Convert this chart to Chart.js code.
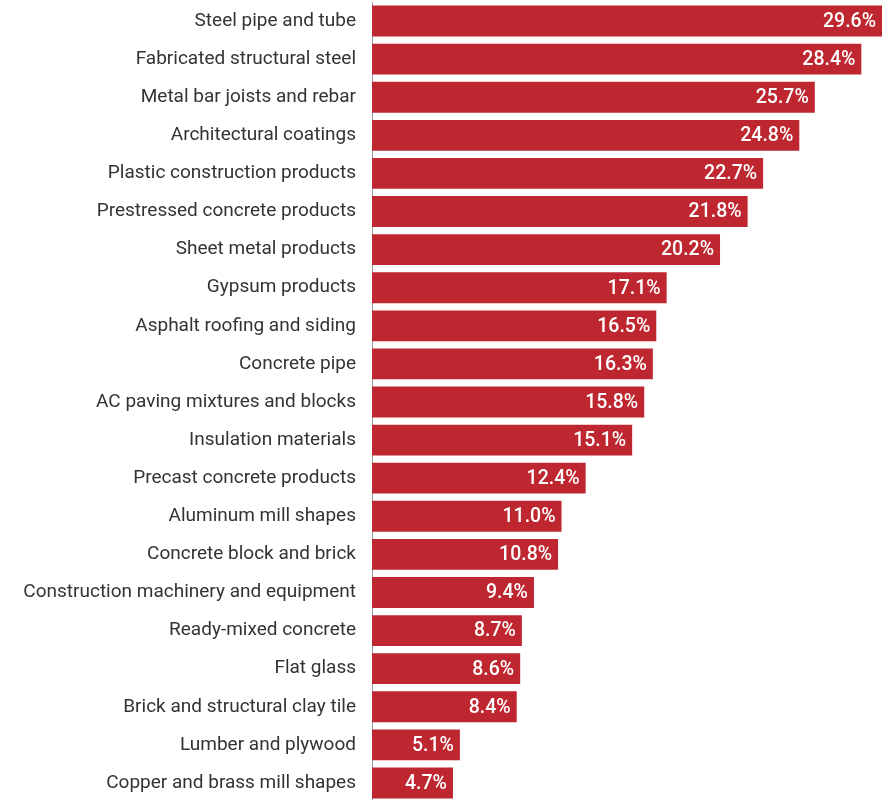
<!DOCTYPE html>
<html>
<head>
<meta charset="utf-8">
<script src="https://cdn.jsdelivr.net/npm/chart.js@4"></script>
<style>
  html, body { margin: 0; padding: 0; background: #fff; overflow: hidden; }
  #wrap { width: 895px; height: 802px; }
</style>
</head>
<body>
<div id="wrap"><canvas id="myChart"></canvas></div>
<script>
const categories = [
  'Steel pipe and tube',
  'Fabricated structural steel',
  'Metal bar joists and rebar',
  'Architectural coatings',
  'Plastic construction products',
  'Prestressed concrete products',
  'Sheet metal products',
  'Gypsum products',
  'Asphalt roofing and siding',
  'Concrete pipe',
  'AC paving mixtures and blocks',
  'Insulation materials',
  'Precast concrete products',
  'Aluminum mill shapes',
  'Concrete block and brick',
  'Construction machinery and equipment',
  'Ready-mixed concrete',
  'Flat glass',
  'Brick and structural clay tile',
  'Lumber and plywood',
  'Copper and brass mill shapes'
];
const priceChange = [29.6, 28.4, 25.7, 24.8, 22.7, 21.8, 20.2, 17.1, 16.5, 16.3, 15.8, 15.1, 12.4, 11.0, 10.8, 9.4, 8.7, 8.6, 8.4, 5.1, 4.7];

const barColor = '#be2630';
const fontName = 'Roboto, "Noto Sans", sans-serif';

// values written inside the end of each bar
const valueLabels = {
  id: 'valueLabels',
  afterDatasetsDraw(chart) {
    const ctx = chart.ctx;
    const meta = chart.getDatasetMeta(0);
    ctx.save();
    ctx.font = '500 19.5px ' + fontName;
    ctx.fillStyle = '#ffffff';
    ctx.textAlign = 'right';
    ctx.textBaseline = 'middle';
    meta.data.forEach((bar, i) => {
      ctx.fillText(priceChange[i].toFixed(1) + '%', bar.x - 6, bar.y + 1);
    });
    ctx.restore();
  }
};

const ctx = document.getElementById('myChart');

new Chart(ctx, {
  type: 'bar',
  data: {
    labels: categories,
    datasets: [{
      data: priceChange,
      backgroundColor: barColor,
      barPercentage: 0.81,
      categoryPercentage: 1
    }]
  },
  plugins: [valueLabels],
  options: {
    indexAxis: 'y',
    responsive: true,
    maintainAspectRatio: false,
    animation: false,
    layout: { padding: { top: 2, right: 13, bottom: 0, left: 0 } },
    plugins: {
      legend: { display: false },
      tooltip: { enabled: false }
    },
    scales: {
      x: {
        display: false,
        min: 0,
        max: 29.6
      },
      y: {
        afterFit(scale) {
          scale.width = 372;
          scale.paddingTop = 0;
          scale.paddingBottom = 0;
        },
        grid: { display: true, drawOnChartArea: false, drawTicks: false },
        border: { display: true, color: '#9a9a9a', width: 1 },
        ticks: {
          color: '#333333',
          padding: 16,
          font: { family: fontName, size: 19 }
        }
      }
    }
  }
});
</script>
</body>
</html>
